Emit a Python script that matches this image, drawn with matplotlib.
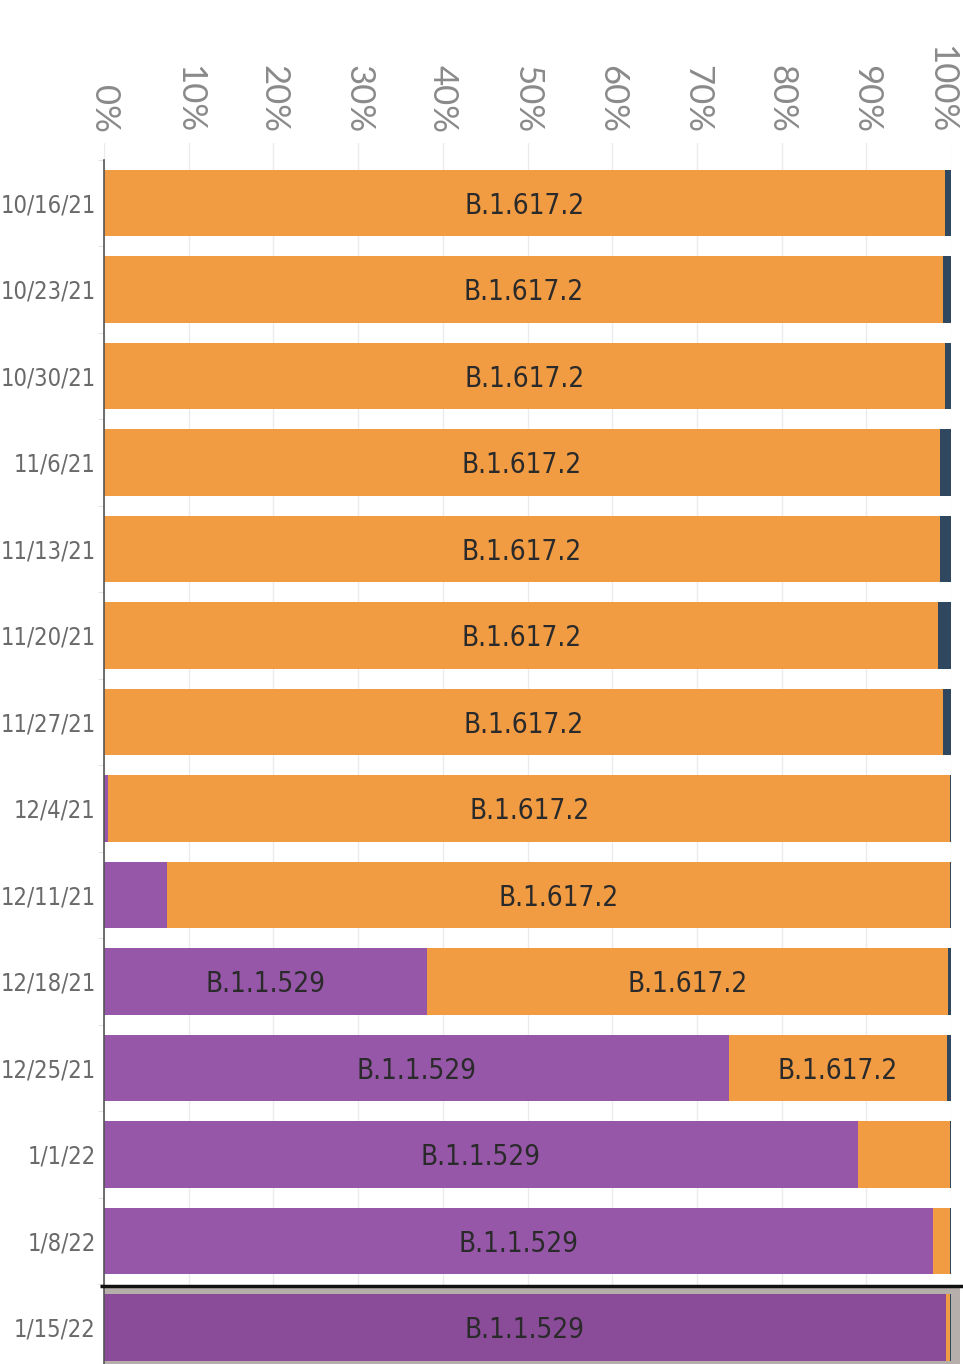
import matplotlib
matplotlib.use("Agg")
import matplotlib.pyplot as plt
from matplotlib.patches import Rectangle
import numpy as np

dates = ["10/16/21", "10/23/21", "10/30/21", "11/6/21", "11/13/21", "11/20/21",
         "11/27/21", "12/4/21", "12/11/21", "12/18/21", "12/25/21", "1/1/22",
         "1/8/22", "1/15/22"]
omicron = [0.0, 0.0, 0.0, 0.0, 0.0, 0.0, 0.0, 0.5, 7.4, 38.1, 73.8, 89.0, 97.9, 99.4]
other = [0.7, 0.9, 0.7, 1.3, 1.3, 1.5, 1.0, 0.1, 0.1, 0.3, 0.5, 0.1, 0.1, 0.1]
delta = [100.0 - o - t for o, t in zip(omicron, other)]
xticks = [0, 10, 20, 30, 40, 50, 60, 70, 80, 90, 100]
xtick_labels = [f"{v}%" for v in xticks]
omicron_name = "B.1.1.529"
delta_name = "B.1.617.2"
highlight_row = 13

C_ORANGE = "#F19B43"
C_PURPLE = "#9657A8"
C_PURPLE_HI = "#8A4C99"
C_DARK = "#2F4860"
C_HI_BG = "#B6AEAA"

W, H = 963, 1364
fig = plt.figure(figsize=(W / 100, H / 100), dpi=100)
left, right, top, bottom = 104, 951, 143, 1364
ax = fig.add_axes([left / W, 1 - bottom / H, (right - left) / W, (bottom - top) / H])

n = len(dates)
y = np.arange(n)
pitch = 86.5
top_units = -0.5 - (203 - 143 - 43.25) / pitch
bot_units = top_units + (bottom - top) / pitch
ax.set_xlim(0, 100)
ax.set_ylim(bot_units, top_units)

NARROW = dict(family="DejaVu Sans", stretch="condensed")

# highlight background for last row
ax.add_patch(Rectangle((0, highlight_row - 0.5 + 0.03), 100 * (960 - 104) / 847, 1.2,
                       facecolor=C_HI_BG, edgecolor="none", zorder=1, clip_on=False))
ax.plot([-0.5, 100 * (963 - 104) / 847], [highlight_row - 0.5 + 0.02] * 2, color="#111111",
        lw=2.5, zorder=3, clip_on=False, solid_capstyle="butt")

bh = 0.765
for i in range(n):
    pc = C_PURPLE_HI if i == highlight_row else C_PURPLE
    ax.barh(y[i], omicron[i], height=bh, color=pc, zorder=2)
    ax.barh(y[i], delta[i], left=omicron[i], height=bh, color=C_ORANGE, zorder=2)
    ax.barh(y[i], other[i], left=omicron[i] + delta[i], height=bh, color=C_DARK, zorder=2)
    if omicron[i] > 15:
        ax.text(omicron[i] / 2, y[i] + 0.03, omicron_name, ha="center", va="center",
                fontsize=20, color="#2a2a2a", zorder=4, **NARROW)
    if delta[i] > 15:
        ax.text(omicron[i] + delta[i] / 2, y[i] + 0.03, delta_name, ha="center", va="center",
                fontsize=20, color="#2a2a2a", zorder=4, **NARROW)

# gridlines
for xv in xticks:
    ax.axvline(xv, color="#ebebeb", lw=1, zorder=0)

for s in ["top", "right", "bottom"]:
    ax.spines[s].set_visible(False)
ax.spines["left"].set_color("#555555")
ax.spines["left"].set_linewidth(1.2)
ax.spines["left"].set_bounds(bot_units, -0.5)

ax.set_xticks([])
ax.set_yticks(y)
ax.set_yticklabels(dates, fontsize=17, color="#6a6a6a", **NARROW)
ax.tick_params(axis="y", length=0, pad=6)
ax.set_yticks(np.arange(n) - 0.5, minor=True)
ax.tick_params(axis="y", which="minor", length=4, color="#dddddd")

# top tick labels, rotated
for xv, lab in zip(xticks, xtick_labels):
    xpos = min(xv, 98.8)
    ax.annotate(lab, xy=(xpos, 0), xycoords=("data", "figure pixels"),
                xytext=(xpos, H - 133), textcoords=("data", "figure pixels"),
                rotation=-90, ha="center", va="bottom", fontsize=25, color="#8a8a8a",
                family=["Lato", "DejaVu Sans"], annotation_clip=False)

fig.savefig("out.png", dpi=100)
